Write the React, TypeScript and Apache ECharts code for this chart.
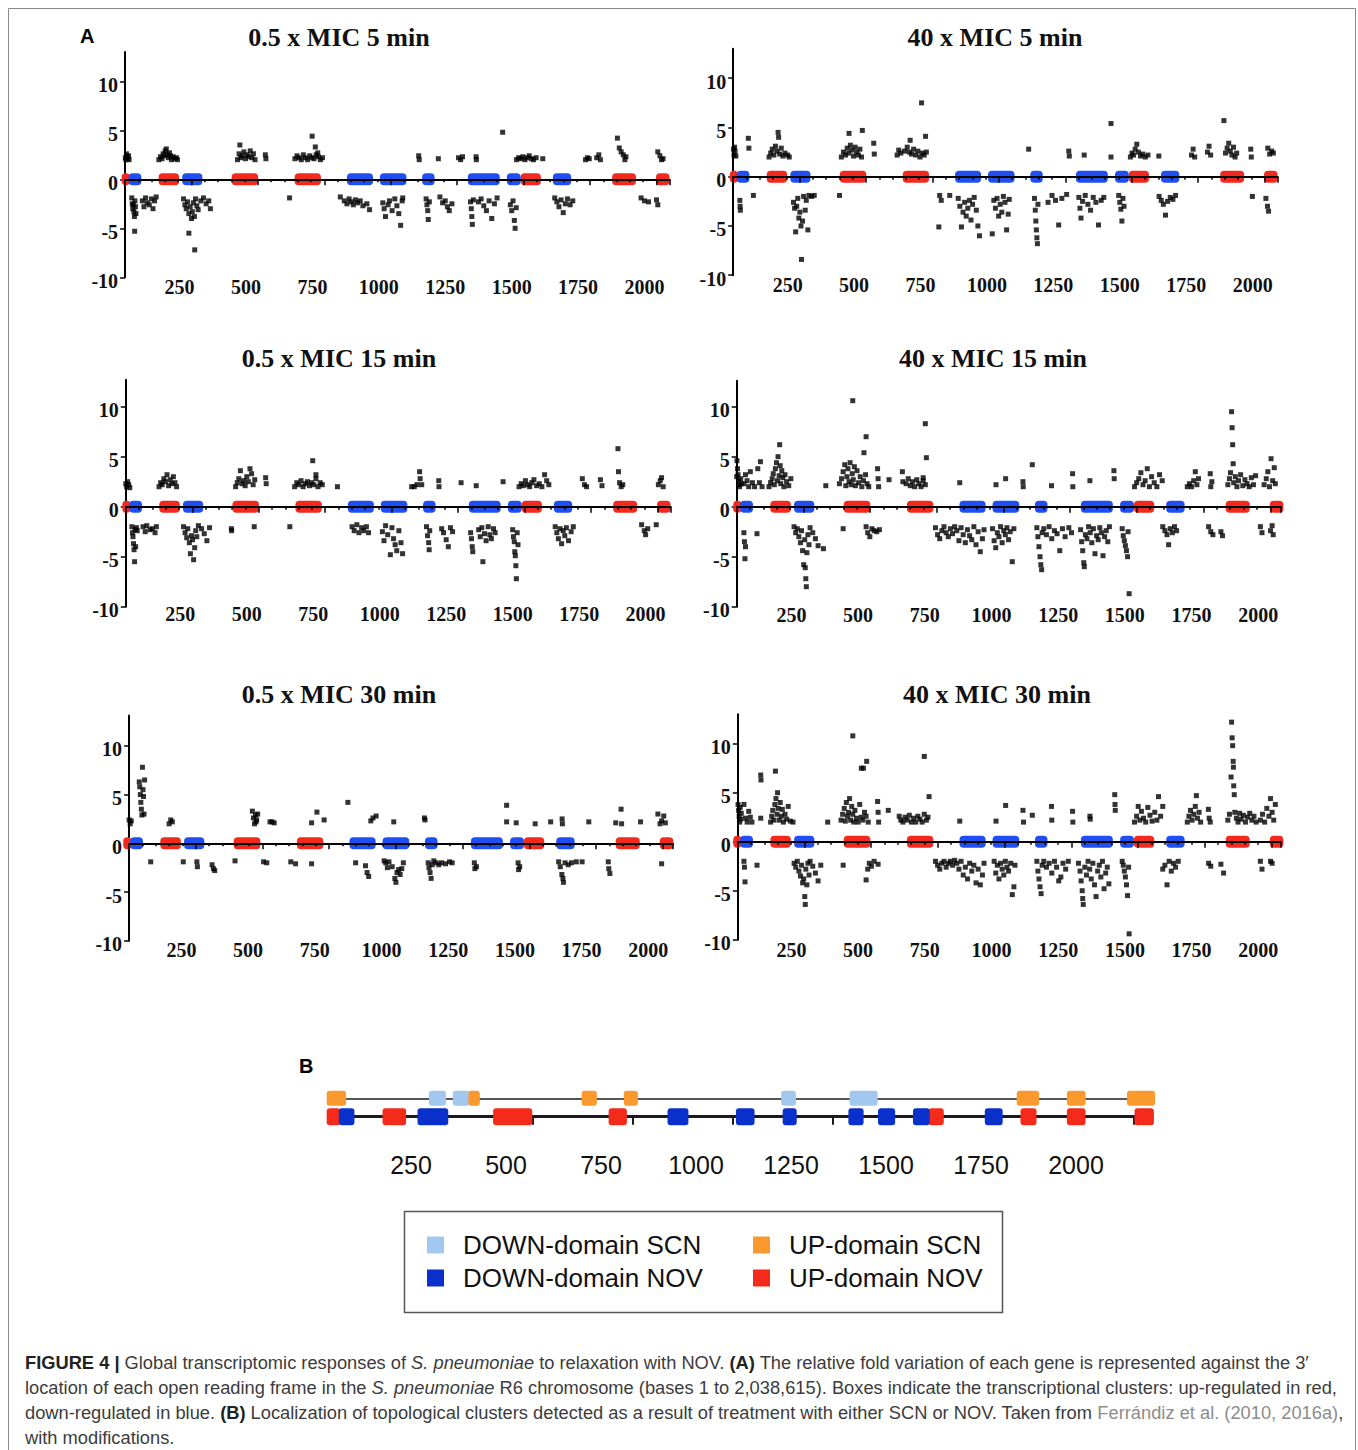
import React, { useEffect, useRef } from "react";
import * as echarts from "echarts";

// ---------- tick labels & titles ----------
const xTickLabels = [250, 500, 750, 1000, 1250, 1500, 1750, 2000];
const yTickLabels = [-10, -5, 0, 5, 10];
const panelTitles = [
  "0.5 x MIC 5 min",
  "40 x MIC 5 min",
  "0.5 x MIC 15 min",
  "40 x MIC 15 min",
  "0.5 x MIC 30 min",
  "40 x MIC 30 min",
];

// ---------- transcriptional clusters (panel A) ----------
const upClusters = [[32, 63], [171, 248], [446, 546], [683, 782], [1534, 1610], [1878, 1968], [2043, 2094]];
const downClusters = [[58, 106], [260, 336], [880, 978], [1004, 1104], [1163, 1210], [1335, 1455], [1482, 1534], [1655, 1724]];

// ---------- gene fold variation per panel ----------
const mic05_5min = [
  [42, 2.8], [44, 2.5], [46, 2.2], [48, 2.0], [50, 2.6], [52, 2.3], [55, 2.1], [58, 2.4], [60, 2.0], [44, 2.0],
  [172, 2.0], [178, 2.3], [184, 2.1], [188, 2.6], [192, 2.4], [196, 2.9], [200, 3.1], [204, 2.5], [208, 2.2], [212, 2.7], [216, 2.4], [220, 2.0], [226, 2.3], [232, 2.1], [238, 2.2], [242, 2.0],
  [477, 3.5], [468, 2.0], [474, 2.6], [480, 2.2], [486, 2.4], [492, 2.8], [498, 2.1], [504, 2.5], [510, 2.3], [516, 2.9], [522, 2.2], [528, 2.6], [534, 2.0],
  [573, 2.5], [575, 2.1],
  [684, 2.1], [692, 2.4], [700, 2.2], [708, 2.0], [716, 2.5], [724, 2.2], [732, 2.0], [740, 2.4], [748, 2.2], [756, 2.1], [764, 2.5], [772, 2.3], [780, 2.0], [788, 2.2], [749, 4.4], [761, 3.3], [770, 2.7],
  [1150, 2.4], [1152, 2.0], [1224, 2.1], [1300, 2.2], [1308, 2.0], [1315, 2.3], [1366, 2.3], [1367, 2.0], [1466, 4.8],
  [1518, 2.0], [1526, 2.2], [1534, 2.1], [1542, 2.3], [1550, 2.0], [1558, 2.2], [1566, 2.4], [1574, 2.1], [1582, 2.0], [1592, 2.2], [1617, 2.1],
  [1778, 2.0], [1785, 2.2], [1792, 2.1], [1820, 2.2], [1828, 2.5], [1834, 2.0],
  [1898, 4.2], [1905, 3.2], [1912, 2.8], [1920, 2.5], [1926, 2.0], [1930, 2.3],
  [2050, 2.8], [2058, 2.4], [2064, 2.0], [2070, 2.1],
  [70, -1.9], [72, -2.5], [74, -3.0], [76, -2.6], [78, -3.3], [80, -3.8], [82, -2.2], [84, -2.8], [81, -5.3], [86, -3.5],
  [110, -2.2], [116, -2.8], [122, -1.9], [128, -2.4], [136, -2.6], [144, -2.0], [150, -3.0], [156, -2.2], [162, -1.8],
  [265, -2.0], [270, -2.6], [275, -3.0], [280, -2.3], [285, -3.5], [290, -2.8], [295, -4.0], [298, -3.3], [302, -2.4], [306, -3.8], [310, -2.0], [315, -2.7], [320, -3.1], [330, -2.2], [340, -1.9], [350, -2.5], [360, -2.2], [366, -3.0], [285, -5.5], [307, -7.2],
  [664, -1.9],
  [855, -1.8], [870, -2.2], [880, -2.5], [888, -2.0], [896, -2.3], [904, -2.6], [912, -2.1], [920, -2.4], [930, -2.2], [940, -2.7], [955, -2.5], [965, -3.1],
  [1015, -2.4], [1020, -3.0], [1025, -3.8], [1035, -2.6], [1040, -2.2], [1050, -3.2], [1060, -2.0], [1068, -2.7], [1075, -3.5], [1082, -4.7], [1088, -2.2], [1090, -1.9],
  [1178, -2.0], [1181, -2.6], [1184, -3.2], [1186, -4.1], [1190, -2.3],
  [1230, -1.8], [1240, -2.4], [1250, -2.2], [1258, -2.8], [1265, -3.2], [1275, -2.5],
  [1345, -2.3], [1348, -3.0], [1350, -3.8], [1352, -4.6], [1356, -2.1],
  [1375, -2.3], [1385, -2.0], [1395, -2.7], [1405, -3.2], [1415, -2.2], [1425, -4.0], [1435, -2.5], [1445, -1.9],
  [1495, -2.6], [1500, -3.2], [1505, -2.2], [1510, -4.2], [1513, -5.0], [1517, -2.9],
  [1662, -1.9], [1670, -2.3], [1678, -2.8], [1686, -2.1], [1694, -3.4], [1702, -2.5], [1710, -2.0], [1720, -2.6], [1730, -2.2],
  [1987, -1.9], [2000, -2.2], [2015, -2.3], [2045, -2.1], [2050, -2.6],
];

const mic40_5min = [
  [42, 2.0], [44, 2.4], [46, 2.8], [48, 2.2], [50, 3.0], [52, 2.6], [55, 2.1], [102, 3.9], [104, 2.9],
  [180, 2.0], [186, 2.4], [192, 2.8], [198, 2.2], [204, 3.1], [210, 2.6], [214, 4.5], [216, 4.0], [220, 2.3], [226, 2.9], [232, 2.1], [240, 2.4], [250, 2.2], [256, 2.0],
  [452, 2.0], [460, 2.5], [468, 2.2], [474, 2.9], [480, 2.4], [486, 3.2], [492, 2.7], [498, 2.1], [504, 3.0], [510, 2.5], [516, 2.2], [522, 2.8], [528, 2.0], [481, 4.4], [531, 4.7],
  [574, 3.4], [576, 2.3],
  [662, 2.2], [668, 2.7], [676, 2.4], [690, 2.6], [700, 3.0], [708, 2.5], [716, 2.3], [724, 2.8], [732, 2.2], [740, 2.6], [748, 2.0], [756, 2.4], [764, 2.2], [772, 2.5], [754, 7.5], [769, 4.1], [711, 3.7],
  [1157, 2.8], [1308, 2.6], [1310, 2.1], [1366, 2.2], [1467, 5.4], [1467, 2.0],
  [1540, 2.0], [1546, 2.4], [1552, 2.2], [1558, 2.8], [1564, 3.3], [1570, 2.5], [1578, 2.1], [1586, 2.3], [1596, 2.0], [1606, 2.2], [1647, 2.1],
  [1770, 2.2], [1776, 2.8], [1782, 2.0], [1830, 2.5], [1836, 3.1], [1842, 2.2],
  [1892, 5.7], [1898, 2.4], [1904, 2.9], [1910, 3.4], [1916, 2.6], [1922, 2.2], [1928, 3.0], [1934, 2.0], [1940, 2.4],
  [1993, 2.8], [1995, 2.0], [2057, 2.9], [2064, 2.3], [2072, 2.6], [2078, 2.4],
  [70, -2.4], [71, -3.0], [72, -3.4], [121, -1.9],
  [272, -2.6], [276, -3.2], [280, -5.6], [284, -3.0], [288, -2.2], [292, -4.2], [296, -3.6], [300, -5.0], [302, -8.4], [306, -4.5], [310, -2.0], [316, -3.4], [320, -2.4], [326, -5.4], [330, -1.9], [340, -2.0], [350, -1.9],
  [445, -1.9], [819, -5.1], [822, -1.9], [828, -2.4], [860, -1.9],
  [892, -2.2], [898, -3.0], [904, -5.1], [910, -3.6], [916, -2.6], [922, -4.0], [928, -3.2], [934, -2.4], [940, -4.4], [946, -2.8], [952, -2.1], [960, -3.4], [966, -5.0], [972, -6.0],
  [1020, -5.8], [1026, -2.4], [1032, -3.2], [1038, -2.2], [1044, -4.0], [1050, -2.8], [1056, -3.6], [1062, -2.0], [1068, -2.6], [1074, -5.4], [1080, -3.8], [1084, -2.3],
  [1179, -2.2], [1182, -3.4], [1184, -4.5], [1186, -5.4], [1188, -6.2], [1190, -6.8], [1192, -2.8],
  [1230, -2.6], [1245, -1.9], [1258, -2.4], [1270, -4.9], [1282, -2.2], [1300, -1.8],
  [1346, -2.1], [1350, -3.2], [1354, -4.2], [1360, -2.5], [1370, -1.9], [1380, -2.8], [1390, -3.4], [1400, -2.1], [1410, -2.6], [1420, -4.9], [1430, -2.4], [1440, -2.1],
  [1496, -1.9], [1500, -2.6], [1504, -3.3], [1508, -4.5], [1512, -2.2], [1516, -3.0],
  [1648, -2.0], [1656, -2.4], [1664, -2.8], [1672, -3.9], [1680, -2.5], [1690, -2.1], [1700, -2.3], [1710, -1.9],
  [1999, -2.0], [2050, -2.2], [2056, -3.0], [2060, -3.5],
];

const mic05_15min = [
  [42, 2.8], [45, 2.3], [48, 2.0], [52, 2.5], [56, 2.2], [60, 1.9],
  [170, 2.0], [176, 2.4], [182, 2.2], [188, 2.8], [194, 2.5], [200, 3.2], [206, 2.1], [212, 2.7], [218, 2.3], [224, 3.0], [230, 2.4], [236, 2.0],
  [458, 2.0], [464, 2.4], [470, 2.8], [476, 3.6], [482, 2.3], [488, 2.6], [494, 2.1], [500, 3.0], [506, 2.5], [512, 3.8], [518, 3.3], [524, 2.2], [530, 2.7],
  [571, 2.9], [573, 2.3],
  [680, 2.0], [688, 2.4], [696, 2.2], [704, 2.6], [712, 2.0], [720, 2.3], [728, 2.5], [736, 2.1], [744, 2.4], [752, 2.2], [760, 2.8], [768, 2.0], [776, 2.4], [784, 2.2], [748, 4.6], [760, 3.2],
  [841, 2.0], [1120, 2.0], [1130, 2.0], [1140, 2.2], [1150, 3.5], [1152, 2.8], [1158, 2.2], [1222, 2.6], [1223, 2.0], [1306, 2.4], [1363, 2.1], [1464, 2.5],
  [1524, 2.0], [1532, 2.3], [1540, 2.1], [1548, 2.6], [1556, 2.2], [1564, 2.0], [1572, 2.4], [1580, 2.7], [1590, 2.1], [1600, 2.3], [1610, 2.0], [1620, 3.2], [1628, 2.6], [1636, 2.2],
  [1762, 2.8], [1770, 2.2], [1778, 2.0], [1830, 2.7], [1836, 2.1],
  [1896, 5.8], [1898, 3.5], [1902, 2.4], [1908, 2.0], [1914, 2.2],
  [2048, 2.2], [2055, 2.6], [2060, 2.9], [2066, 2.0],
  [68, -2.0], [70, -2.6], [72, -3.0], [74, -3.7], [76, -4.3], [78, -5.5], [80, -2.3], [82, -4.0], [85, -2.1], [88, -2.4],
  [110, -2.0], [118, -2.5], [124, -1.9], [136, -2.3], [145, -2.2], [155, -2.6], [160, -2.0],
  [262, -2.0], [268, -2.6], [274, -3.1], [278, -2.2], [284, -3.6], [288, -4.7], [292, -2.9], [296, -3.3], [300, -5.3], [304, -4.1], [308, -2.4], [312, -3.0], [318, -1.9], [330, -2.2], [340, -2.7], [350, -3.4], [360, -2.1],
  [442, -2.2], [443, -2.4], [528, -2.0], [662, -2.0],
  [896, -2.0], [904, -2.4], [914, -1.8], [922, -2.6], [932, -2.1], [940, -2.4], [950, -2.0], [958, -2.6],
  [1010, -2.5], [1016, -3.4], [1022, -1.9], [1030, -2.8], [1040, -4.8], [1046, -2.1], [1052, -3.2], [1058, -3.8], [1064, -4.4], [1072, -2.4], [1080, -3.6], [1086, -4.7],
  [1176, -2.0], [1180, -2.9], [1184, -3.6], [1186, -4.3], [1188, -2.4],
  [1233, -2.2], [1240, -2.6], [1250, -3.3], [1258, -4.0], [1266, -2.1], [1274, -2.5],
  [1342, -2.6], [1345, -3.2], [1348, -4.0], [1350, -4.5],
  [1372, -2.3], [1378, -3.0], [1384, -2.1], [1388, -5.5], [1394, -2.7], [1400, -3.4], [1408, -2.0], [1414, -2.8], [1420, -3.2], [1428, -2.2], [1434, -2.6],
  [1500, -2.3], [1503, -3.0], [1506, -3.5], [1508, -4.5], [1510, -4.9], [1512, -5.9], [1514, -7.2], [1517, -2.6], [1520, -3.8],
  [1660, -2.0], [1666, -2.6], [1672, -3.2], [1678, -2.2], [1684, -3.7], [1690, -2.4], [1696, -2.9], [1702, -2.1], [1710, -3.4], [1720, -2.5], [1728, -2.0],
  [1985, -1.8], [1995, -2.4], [2000, -2.8], [2008, -2.2], [2040, -1.8],
];

const mic40_15min = [
  [42, 6.5], [44, 5.5], [46, 4.6], [48, 3.8], [50, 3.2], [52, 2.6], [54, 2.2], [56, 2.0], [60, 2.8], [62, 2.3], [45, 3.0],
  [72, 2.3], [78, 3.2], [84, 2.6], [90, 2.0], [96, 3.5], [104, 2.4], [112, 2.0], [124, 3.8], [130, 2.4], [134, 4.5], [140, 2.0],
  [166, 2.0], [172, 2.4], [178, 2.8], [182, 3.3], [186, 2.2], [190, 3.8], [194, 4.4], [198, 2.6], [200, 5.0], [204, 3.1], [206, 6.2], [208, 4.1], [210, 2.3], [214, 3.6], [218, 2.9], [222, 2.0], [226, 3.2], [232, 2.5], [240, 2.1], [248, 2.8],
  [379, 2.1],
  [430, 2.3], [438, 2.8], [444, 3.5], [450, 4.2], [454, 2.1], [458, 3.0], [462, 3.8], [466, 2.5], [470, 4.4], [474, 2.2], [478, 3.3], [482, 2.7], [486, 4.0], [490, 2.1], [496, 3.6], [502, 2.4], [508, 3.0], [514, 2.0], [520, 2.6], [528, 3.2], [534, 2.3], [540, 2.0],
  [480, 10.6], [530, 7.0], [522, 5.4],
  [573, 3.8], [575, 2.8], [577, 2.0], [616, 2.7], [666, 3.5], [668, 2.5],
  [680, 2.3], [688, 2.8], [696, 2.1], [704, 2.5], [712, 2.0], [720, 2.7], [728, 2.3], [736, 2.0], [744, 2.6], [752, 2.2], [756, 4.9], [744, 2.9], [752, 8.3],
  [881, 2.4], [1017, 2.2], [1053, 2.8], [1118, 2.5], [1119, 2.0], [1153, 4.2], [1225, 2.1], [1304, 3.3], [1305, 2.0], [1369, 2.6], [1459, 3.6], [1460, 2.8],
  [1536, 2.0], [1544, 2.4], [1552, 2.8], [1560, 3.4], [1568, 2.2], [1576, 2.6], [1584, 3.8], [1592, 2.0], [1600, 3.0], [1610, 2.4], [1620, 2.0], [1630, 3.2], [1640, 2.6],
  [1734, 2.0], [1742, 2.3], [1750, 2.0], [1758, 2.6], [1764, 3.5], [1770, 2.2], [1776, 2.8], [1820, 3.3], [1822, 2.0], [1826, 2.5],
  [1886, 2.2], [1892, 2.8], [1896, 3.4], [1900, 9.5], [1902, 7.9], [1904, 6.2], [1906, 4.3], [1908, 2.4], [1914, 3.0], [1920, 2.0], [1926, 2.6], [1934, 3.2], [1942, 2.1], [1950, 2.7], [1958, 2.3], [1966, 2.0], [1974, 2.9], [1982, 2.2], [1990, 3.1],
  [2022, 2.2], [2030, 2.8], [2036, 3.5], [2042, 2.0], [2048, 4.8], [2054, 2.6], [2060, 3.9], [2064, 2.3],
  [72, -2.6], [74, -3.5], [76, -5.2], [78, -4.0], [121, -2.7],
  [260, -2.0], [266, -2.6], [272, -2.2], [278, -3.0], [284, -3.6], [288, -2.4], [292, -4.4], [296, -5.8], [300, -3.3], [302, -6.1], [304, -7.2], [306, -8.0], [308, -4.6], [312, -2.8], [316, -3.8], [320, -2.1], [330, -2.6], [340, -3.2], [350, -3.9], [370, -4.2],
  [444, -2.2], [530, -2.0], [536, -2.6], [544, -3.0], [552, -2.2], [560, -2.4], [570, -2.5], [580, -2.3],
  [790, -2.1], [798, -2.8], [806, -3.2], [814, -2.4], [822, -2.0], [830, -2.6], [838, -3.0], [846, -2.2], [854, -2.7], [862, -2.0], [870, -2.4], [878, -3.4], [886, -2.1], [894, -2.8], [902, -3.6], [910, -2.3], [918, -2.9], [926, -3.3], [934, -2.0], [942, -3.8], [950, -2.5], [958, -4.5], [966, -3.2], [972, -2.3],
  [1004, -2.2], [1010, -3.4], [1016, -4.1], [1022, -2.6], [1028, -3.0], [1034, -2.0], [1040, -3.6], [1046, -2.4], [1052, -2.8], [1058, -2.1], [1064, -3.3], [1070, -2.5], [1078, -5.5], [1084, -2.2],
  [1170, -2.1], [1174, -3.0], [1178, -4.0], [1182, -5.0], [1185, -5.8], [1188, -6.3], [1190, -2.6], [1196, -2.2], [1206, -2.8], [1216, -2.0], [1226, -3.2], [1236, -2.4], [1246, -2.7], [1256, -4.4], [1266, -2.2], [1276, -3.0], [1290, -2.1], [1300, -2.6],
  [1334, -2.3], [1338, -3.5], [1342, -4.4], [1346, -5.6], [1348, -6.0], [1352, -2.8], [1358, -3.2], [1364, -2.0], [1370, -2.6], [1376, -3.6], [1382, -2.2], [1388, -4.7], [1394, -2.9], [1400, -3.3], [1406, -2.1], [1412, -2.6], [1418, -4.9], [1424, -3.0], [1430, -2.4], [1436, -3.5], [1442, -2.0],
  [1490, -2.2], [1494, -2.9], [1498, -3.4], [1502, -3.9], [1506, -4.4], [1510, -5.0], [1512, -2.5], [1516, -8.7],
  [1642, -2.0], [1650, -2.4], [1658, -2.8], [1664, -3.8], [1670, -2.2], [1678, -2.6], [1686, -2.0], [1694, -2.4],
  [1814, -2.0], [1822, -2.5], [1830, -2.8], [1860, -2.5], [1866, -2.9],
  [2008, -2.0], [2014, -2.6], [2046, -2.4], [2052, -1.9], [2056, -2.8],
];

const mic05_30min = [
  [50, 2.2], [54, 2.4], [58, 2.0], [62, 2.3],
  [92, 6.3], [94, 5.8], [96, 5.0], [98, 4.2], [100, 3.5], [102, 2.9], [104, 7.8], [106, 5.5], [108, 4.8], [110, 3.0], [112, 6.5],
  [204, 2.0], [210, 2.4], [216, 2.2],
  [516, 3.3], [520, 2.6], [524, 2.0], [528, 2.9], [532, 2.4], [536, 3.0], [530, 2.2],
  [582, 2.2], [590, 2.2], [598, 2.1], [738, 2.1], [758, 3.2], [785, 2.4], [874, 4.2],
  [960, 2.3], [968, 2.6], [980, 2.8], [1046, 2.2], [1161, 2.6], [1163, 2.4],
  [1469, 3.9], [1469, 2.2], [1505, 2.1], [1576, 2.0], [1634, 2.2], [1677, 2.5], [1678, 2.0], [1777, 2.2],
  [1878, 2.1], [1898, 3.5], [1900, 2.0], [1971, 2.2],
  [2036, 3.0], [2044, 2.0], [2050, 2.3], [2058, 2.8], [2064, 2.1],
  [135, -1.9], [257, -1.9], [308, -1.9], [310, -2.4], [365, -2.2], [370, -2.6], [375, -2.8], [451, -1.8], [558, -1.9], [570, -2.0], [660, -1.9], [678, -2.1], [738, -2.1],
  [903, -2.0], [940, -2.3], [946, -3.0], [952, -3.4],
  [1010, -1.8], [1016, -2.0], [1022, -2.5], [1028, -1.9], [1040, -2.4], [1050, -3.6], [1058, -3.0], [1064, -2.7], [1070, -3.2], [1076, -2.6], [1082, -2.0], [1054, -4.0],
  [1175, -2.0], [1178, -2.5], [1182, -3.0], [1186, -3.6], [1190, -2.2], [1196, -1.8], [1205, -2.0], [1215, -2.2], [1225, -2.0], [1240, -2.1], [1255, -1.9], [1265, -2.0],
  [1348, -2.0], [1350, -2.6], [1356, -2.4], [1512, -2.0], [1514, -2.7], [1518, -2.4],
  [1664, -1.9], [1670, -2.4], [1676, -3.2], [1680, -3.6], [1682, -4.0], [1688, -2.0], [1700, -2.2], [1712, -2.0], [1730, -1.9], [1752, -1.9],
  [1850, -1.9], [1852, -2.6], [1856, -3.1], [2050, -2.1],
];

const mic40_30min = [
  [42, 7.0], [44, 6.0], [46, 5.5], [48, 4.6], [50, 3.8], [52, 3.2], [54, 2.6], [56, 2.0], [58, 3.5], [60, 2.3], [62, 2.9], [44, 2.1],
  [72, 3.8], [78, 2.4], [84, 2.0], [90, 3.1], [96, 2.5], [102, 2.0], [135, 6.8], [136, 6.3], [135, 2.4],
  [172, 2.0], [176, 2.6], [180, 3.2], [184, 2.2], [188, 3.8], [190, 7.2], [192, 4.4], [196, 2.8], [198, 5.0], [200, 3.4], [204, 2.2], [208, 4.0], [212, 2.6], [216, 3.3], [220, 2.0], [226, 2.8], [232, 2.3], [238, 3.6], [246, 2.1], [256, 2.0],
  [386, 2.0],
  [436, 2.2], [442, 2.8], [448, 3.4], [452, 2.1], [456, 4.0], [460, 2.6], [464, 3.0], [468, 4.4], [472, 2.2], [476, 3.6], [480, 2.8], [484, 2.0], [488, 3.2], [494, 2.4], [500, 2.0], [506, 3.8], [512, 2.5], [518, 2.2], [524, 3.0], [530, 2.6], [538, 2.0],
  [480, 10.8], [512, 7.5], [520, 7.5], [532, 8.2],
  [573, 4.1], [575, 3.0], [577, 2.0], [613, 3.2],
  [654, 2.6], [660, 2.2], [668, 2.0], [676, 2.5], [684, 2.2], [692, 2.7], [700, 2.0], [708, 2.4], [716, 2.0], [724, 2.6], [732, 2.3], [740, 2.0], [748, 2.8], [756, 2.2], [762, 2.5], [748, 8.7], [766, 4.6],
  [881, 2.1], [1017, 2.1], [1053, 3.7], [1118, 3.2], [1120, 2.0], [1153, 2.7], [1225, 3.6], [1226, 2.2], [1304, 3.1], [1305, 2.0], [1369, 2.6], [1370, 2.3], [1462, 4.8], [1463, 3.8], [1464, 3.2],
  [1536, 2.0], [1544, 2.6], [1550, 3.6], [1556, 2.2], [1562, 3.1], [1570, 2.4], [1578, 2.0], [1586, 3.5], [1594, 2.7], [1602, 2.1], [1612, 3.0], [1620, 2.2], [1626, 4.6], [1634, 2.6], [1642, 3.6],
  [1734, 2.0], [1740, 2.6], [1746, 3.2], [1752, 2.2], [1758, 2.8], [1764, 3.6], [1768, 4.7], [1772, 2.4], [1778, 3.0], [1784, 2.0], [1813, 3.3], [1816, 2.4], [1820, 2.0],
  [1886, 2.2], [1892, 2.8], [1898, 6.6], [1900, 12.2], [1902, 10.6], [1904, 9.8], [1906, 8.2], [1907, 7.6], [1908, 5.7], [1910, 4.8], [1912, 3.0], [1918, 2.4], [1924, 2.0], [1930, 2.9], [1936, 2.3], [1944, 2.7], [1952, 2.0], [1960, 2.5], [1968, 2.9], [1976, 2.2], [1984, 2.6], [1992, 2.0],
  [2008, 2.2], [2016, 2.8], [2024, 2.0], [2032, 3.4], [2040, 2.6], [2046, 4.4], [2052, 3.0], [2058, 2.2], [2064, 3.8],
  [72, -2.0], [74, -2.6], [76, -4.1], [121, -2.4],
  [260, -2.2], [266, -2.6], [272, -2.0], [278, -3.0], [284, -3.5], [288, -2.4], [292, -4.2], [296, -3.8], [300, -5.6], [302, -6.4], [304, -2.8], [308, -4.4], [312, -2.2], [316, -3.4], [320, -2.0], [330, -2.5], [340, -3.2], [350, -4.0], [360, -2.4],
  [444, -2.4], [530, -3.9], [536, -2.8], [542, -2.2], [550, -2.5], [560, -2.0], [575, -2.3],
  [790, -2.0], [798, -2.4], [806, -2.8], [814, -2.2], [822, -2.0], [830, -2.6], [838, -2.2], [846, -2.0], [854, -2.4], [862, -1.9], [870, -2.2], [878, -2.8], [886, -2.0], [894, -3.4], [902, -2.6], [910, -3.8], [918, -2.2], [926, -3.0], [934, -2.4], [942, -4.2], [950, -2.8], [958, -4.4], [966, -3.4], [972, -2.2],
  [1010, -2.0], [1016, -3.2], [1022, -2.4], [1028, -3.8], [1034, -2.2], [1040, -2.8], [1046, -3.4], [1052, -2.0], [1058, -2.6], [1064, -3.0], [1072, -2.2], [1078, -5.4], [1084, -4.6], [1088, -2.4],
  [1170, -2.0], [1174, -3.0], [1178, -3.8], [1182, -4.6], [1186, -5.3], [1190, -2.4], [1196, -2.0], [1206, -2.6], [1216, -2.2], [1226, -3.2], [1236, -2.0], [1244, -2.6], [1252, -4.0], [1260, -3.6], [1268, -2.2], [1278, -2.8], [1288, -2.0],
  [1326, -2.2], [1332, -3.0], [1336, -4.0], [1340, -5.0], [1342, -5.8], [1344, -6.4], [1350, -2.6], [1356, -3.4], [1362, -2.0], [1368, -2.8], [1374, -3.8], [1380, -2.2], [1386, -4.4], [1392, -5.6], [1398, -3.0], [1404, -2.4], [1410, -3.6], [1416, -2.0], [1422, -4.8], [1428, -3.2], [1434, -2.6], [1440, -4.3],
  [1490, -2.0], [1494, -2.4], [1498, -3.0], [1502, -3.6], [1506, -4.4], [1510, -5.5], [1514, -2.6], [1516, -9.4],
  [1642, -2.8], [1650, -2.4], [1658, -4.4], [1666, -2.0], [1674, -3.0], [1682, -2.2], [1690, -2.6], [1700, -2.0],
  [1814, -2.2], [1822, -2.5], [1860, -2.3], [1870, -3.2],
  [2008, -2.0], [2014, -2.8], [2046, -2.0], [2052, -2.2],
];

const panelData = [mic05_5min, mic40_5min, mic05_15min, mic40_15min, mic05_30min, mic40_30min];

// ---------- panel B: topological clusters ----------
const bTickLabels = [250, 500, 750, 1000, 1250, 1500, 1750, 2000];
const scnDownDomains = [[297, 342], [360, 404], [1224, 1263], [1404, 1478]];
const scnUpDomains = [[28, 79], [401, 431], [699, 739], [810, 847], [1844, 1903], [1976, 2025], [2134, 2208]];
const novUpDomains = [[28, 64], [175, 237], [466, 569], [770, 818], [1612, 1652], [1854, 1896], [1976, 2025], [2154, 2205]];
const novDownDomains = [[60, 101], [267, 348], [925, 980], [1105, 1154], [1228, 1265], [1401, 1441], [1479, 1524], [1571, 1615], [1760, 1807]];
const legendNames = ["DOWN-domain SCN", "DOWN-domain NOV", "UP-domain SCN", "UP-domain NOV"];

// ---------- layout & style ----------
const SERIF = "'Liberation Serif', 'Times New Roman', serif";
const SANS = "'Liberation Sans', Arial, Helvetica, sans-serif";
const RED = "#f3291d";
const BLUE = "#1f4ff2";
const plain = (v: number) => String(v);

const layouts = [
  { left: 125.1, top: 51.9, width: 544.4, height: 225.4, xMin: 45, xMax: 2094, yMax: 13, labelMargin: 0, tx: 339, ty: 37 },
  { left: 733.2, top: 48.7, width: 544.4, height: 226.5, xMin: 45, xMax: 2094, yMax: 13, labelMargin: 0, tx: 995, ty: 37 },
  { left: 125.8, top: 379.7, width: 544.8, height: 227, xMin: 45, xMax: 2094, yMax: 12.7, labelMargin: -3, tx: 339, ty: 358 },
  { left: 736.7, top: 380.7, width: 544.5, height: 226, xMin: 45, xMax: 2086, yMax: 12.6, labelMargin: -2, tx: 993, ty: 358 },
  { left: 129.1, top: 715.6, width: 544.0, height: 225.2, xMin: 54, xMax: 2093, yMax: 13.1, labelMargin: -1, tx: 339, ty: 694 },
  { left: 737.8, top: 714.3, width: 543.4, height: 225.4, xMin: 49, xMax: 2086, yMax: 13, labelMargin: 0, tx: 997, ty: 694 },
];

function clusterRenderer(color: string, h: number) {
  return (params: any, api: any) => {
    const s = api.coord([api.value(0), api.value(2)]);
    const e = api.coord([api.value(1), api.value(2)]);
    return {
      type: "rect",
      shape: { x: s[0], y: s[1] - h / 2, width: e[0] - s[0], height: h, r: 4 },
      style: { fill: color },
    };
  };
}

function buildOption() {
  const grid: any[] = [];
  const xAxis: any[] = [];
  const yAxis: any[] = [];
  const series: any[] = [];
  const graphic: any[] = [];

  layouts.forEach((L, i) => {
    grid.push({ left: L.left, top: L.top, width: L.width, height: L.height, outerBoundsMode: "none" });
    const dataAxisIndex = xAxis.length;
    xAxis.push({
      type: "value", gridIndex: i, min: L.xMin, max: L.xMax, position: "bottom",
      axisLine: { show: false, onZero: false },
      axisTick: { show: false },
      splitLine: { show: false },
      axisLabel: {
        customValues: xTickLabels, margin: L.labelMargin, fontFamily: SERIF, fontWeight: "bold",
        fontSize: 20, color: "#111", hideOverlap: false, formatter: plain,
      },
    });
    xAxis.push({
      type: "value", gridIndex: i, min: 0, max: L.xMax - L.xMin, interval: 250, position: "bottom", z: 5,
      axisLine: { show: true, onZero: true, lineStyle: { color: "#000", width: 2 } },
      axisTick: { show: true, length: 6, lineStyle: { color: "#000", width: 1.5 } },
      minorTick: { show: true, splitNumber: 5, length: 3, lineStyle: { color: "#000", width: 1.5 } },
      axisLabel: { show: false },
      splitLine: { show: false },
      minorSplitLine: { show: false },
    });
    yAxis.push({
      type: "value", gridIndex: i, min: -10, max: L.yMax, position: "left",
      axisLine: { show: true, onZero: false, lineStyle: { color: "#000", width: 2 } },
      axisTick: { show: true, customValues: yTickLabels, length: 5, lineStyle: { color: "#000", width: 1.5 } },
      axisLabel: {
        customValues: yTickLabels, margin: 7, fontFamily: SERIF, fontWeight: "bold", fontSize: 20, color: "#111",
        hideOverlap: false, formatter: plain, verticalAlign: "top", lineHeight: 7,
      },
      splitLine: { show: false },
    });
    series.push({
      type: "custom", name: "up-" + i, xAxisIndex: dataAxisIndex, yAxisIndex: i, clip: false,
      encode: { x: [0, 1], y: 2 },
      data: upClusters.map((c) => [c[0], c[1], 0]),
      renderItem: clusterRenderer(RED, 12),
      silent: true,
    });
    series.push({
      type: "custom", name: "down-" + i, xAxisIndex: dataAxisIndex, yAxisIndex: i, clip: false,
      encode: { x: [0, 1], y: 2 },
      data: downClusters.map((c) => [c[0], c[1], 0]),
      renderItem: clusterRenderer(BLUE, 12),
      silent: true,
    });
    series.push({
      type: "scatter", name: "genes-" + i, xAxisIndex: dataAxisIndex, yAxisIndex: i,
      symbol: "rect", symbolSize: 5, itemStyle: { color: "#000" }, data: panelData[i], silent: true,
    });
    graphic.push({
      type: "text", x: L.tx, y: L.ty,
      style: {
        text: panelTitles[i], fontFamily: SERIF, fontWeight: "bold", fontSize: 26, fill: "#111",
        align: "center", verticalAlign: "middle", textAlign: "center", textVerticalAlign: "middle",
      },
    });
  });

  // ---- panel B ----
  const gB = layouts.length;
  grid.push({ left: 332, top: 1098.3, width: 820, height: 18.4, outerBoundsMode: "none" });
  const bData = xAxis.length;
  xAxis.push({
    type: "value", gridIndex: gB, min: 42, max: 2200, position: "bottom",
    axisLine: { show: false, onZero: false }, axisTick: { show: false }, splitLine: { show: false },
    axisLabel: { customValues: bTickLabels, margin: 36, fontFamily: SANS, fontSize: 25, color: "#111", hideOverlap: false, formatter: plain },
  });
  xAxis.push({
    type: "value", gridIndex: gB, min: 0, max: 8.18, interval: 1, position: "bottom",
    axisLine: { show: true, onZero: false, lineStyle: { color: "#1a1a1a", width: 3 } },
    axisTick: { show: true, length: 8, lineStyle: { color: "#1a1a1a", width: 2 } },
    axisLabel: { show: false }, splitLine: { show: false },
  });
  xAxis.push({
    type: "value", gridIndex: gB, min: 42, max: 2200, position: "top",
    axisLine: { show: true, onZero: false, lineStyle: { color: "#555", width: 2 } },
    axisTick: { show: false }, axisLabel: { show: false }, splitLine: { show: false },
  });
  yAxis.push({ type: "value", gridIndex: gB, min: 0, max: 1, show: false });

  const bSeries = [
    { name: legendNames[0], color: "#a3c8f0", data: scnDownDomains, row: 1, h: 15 },
    { name: legendNames[2], color: "#f9992e", data: scnUpDomains, row: 1, h: 15 },
    { name: legendNames[3], color: "#f42a1a", data: novUpDomains, row: 0, h: 17 },
    { name: legendNames[1], color: "#0a30cc", data: novDownDomains, row: 0, h: 17 },
  ];
  bSeries.forEach((b) => {
    series.push({
      type: "custom", name: b.name, xAxisIndex: bData, yAxisIndex: gB, clip: false,
      encode: { x: [0, 1], y: 2 },
      itemStyle: { color: b.color },
      data: b.data.map((c) => [c[0], c[1], b.row]),
      renderItem: (params: any, api: any) => {
        const s = api.coord([api.value(0), api.value(2)]);
        const e = api.coord([api.value(1), api.value(2)]);
        return {
          type: "rect",
          shape: { x: s[0], y: s[1] - b.h / 2, width: e[0] - s[0], height: b.h, r: 3 },
          style: { fill: b.color },
        };
      },
      silent: true,
    });
  });

  const legendText = { fontSize: 26, fontFamily: SANS, color: "#111", lineHeight: 26, padding: [0, 0, 0, 14] };
  const legend = [
    {
      data: [legendNames[0], legendNames[1]], orient: "vertical", left: 427, top: 1232, padding: 0,
      itemWidth: 17, itemHeight: 17, itemGap: 7, icon: "rect", selectedMode: false, textStyle: legendText,
    },
    {
      data: [legendNames[2], legendNames[3]], orient: "vertical", left: 753, top: 1232, padding: 0,
      itemWidth: 17, itemHeight: 17, itemGap: 7, icon: "rect", selectedMode: false, textStyle: legendText,
    },
  ];

  // ---- static decorations ----
  graphic.push({
    type: "rect", shape: { x: 8.5, y: 8.5, width: 1347, height: 1500 },
    style: { fill: "none", stroke: "#8a8a8a", lineWidth: 1 }, z: -1, silent: true,
  });
  graphic.push({
    type: "rect", shape: { x: 404.5, y: 1211.5, width: 598, height: 101 },
    style: { fill: "none", stroke: "#555", lineWidth: 1.5 }, silent: true,
  });
  graphic.push({
    type: "text", x: 80, y: 36,
    style: { text: "A", fontFamily: SANS, fontWeight: "bold", fontSize: 20, fill: "#000", verticalAlign: "middle", textVerticalAlign: "middle" },
  });
  graphic.push({
    type: "text", x: 299, y: 1066,
    style: { text: "B", fontFamily: SANS, fontWeight: "bold", fontSize: 20, fill: "#000", verticalAlign: "middle", textVerticalAlign: "middle" },
  });

  const capFont = SANS;
  const capSize = 18.3;
  const rich = {
    b: { fontWeight: "bold", fontSize: capSize, fontFamily: capFont, fill: "#222", color: "#222" },
    i: { fontStyle: "italic", fontSize: capSize, fontFamily: capFont, fill: "#3c3c3c", color: "#3c3c3c" },
    l: { fontSize: capSize, fontFamily: capFont, fill: "#8c8c8c", color: "#8c8c8c" },
  };
  const captionLines = [
    "{b|FIGURE 4 |} Global transcriptomic responses of {i|S. pneumoniae} to relaxation with NOV. {b|(A)} The relative fold variation of each gene is represented against the 3′",
    "location of each open reading frame in the {i|S. pneumoniae} R6 chromosome (bases 1 to 2,038,615). Boxes indicate the transcriptional clusters: up-regulated in red,",
    "down-regulated in blue. {b|(B)} Localization of topological clusters detected as a result of treatment with either SCN or NOV. Taken from {l|Ferrándiz et al. (2010, 2016a)},",
    "with modifications.",
  ];
  captionLines.forEach((t, k) => {
    graphic.push({
      type: "text", x: 25, y: 1362 + k * 25.3,
      style: {
        text: t, fontFamily: capFont, fontSize: capSize, fill: "#3c3c3c", rich,
        verticalAlign: "middle", textVerticalAlign: "middle",
      },
    });
  });

  return {
    animation: false,
    backgroundColor: "#fff",
    grid, xAxis, yAxis, series, legend, graphic,
  };
}

export default function App() {
  const ref = useRef<HTMLDivElement>(null);
  useEffect(() => {
    if (!ref.current) return;
    const chart = echarts.init(ref.current, null, { renderer: "svg" });
    chart.setOption(buildOption() as any);
    return () => chart.dispose();
  }, []);
  return (
    <div
      ref={ref}
      style={{ position: "absolute", left: 0, top: 0, width: 1358, height: 1450, background: "#fff" }}
    />
  );
}
